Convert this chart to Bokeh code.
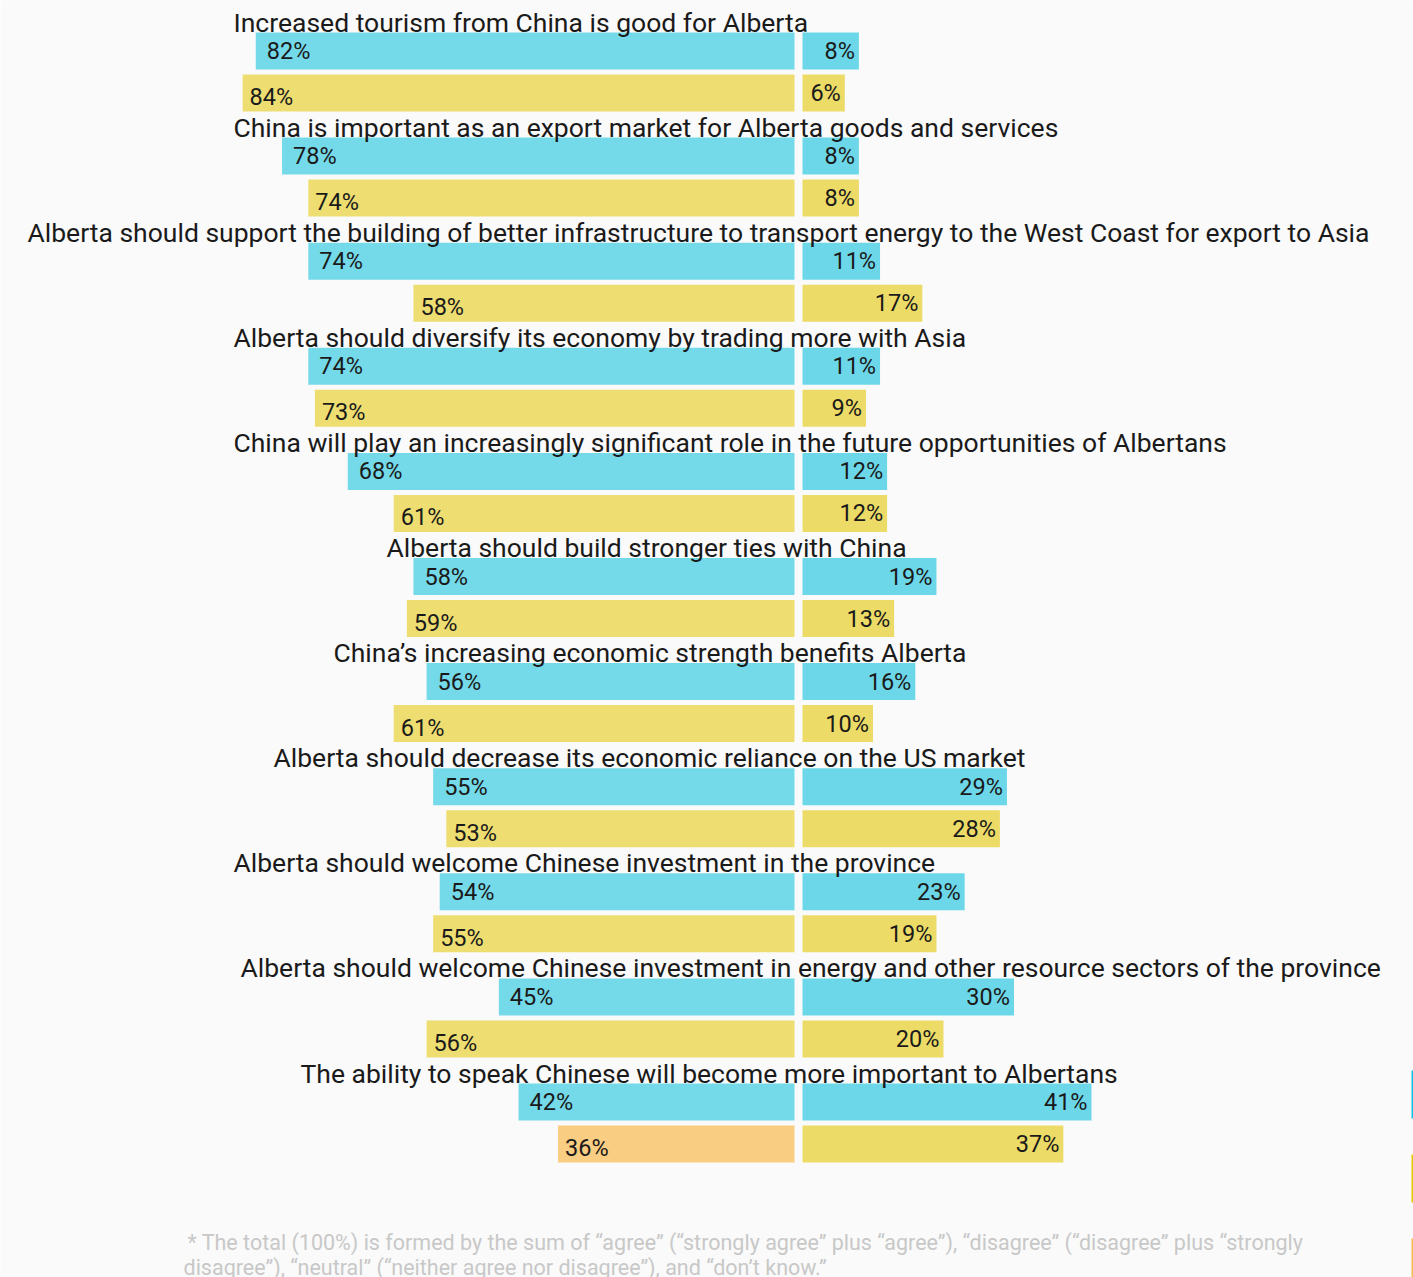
from bokeh.plotting import figure
from bokeh.models import Range1d, ColumnDataSource
from bokeh.core.properties import value
from bokeh.embed import file_html
from bokeh.resources import INLINE

# ---------------- data ----------------
statements = [
    "Increased tourism from China is good for Alberta",
    "China is important as an export market for Alberta goods and services",
    "Alberta should support the building of better infrastructure to transport energy to the West Coast for export to Asia",
    "Alberta should diversify its economy by trading more with Asia",
    "China will play an increasingly significant role in the future opportunities of Albertans",
    "Alberta should build stronger ties with China",
    "China\u2019s increasing economic strength benefits Alberta",
    "Alberta should decrease its economic reliance on the US market",
    "Alberta should welcome Chinese investment in the province",
    "Alberta should welcome Chinese investment in energy and other resource sectors of the province",
    "The ability to speak Chinese will become more important to Albertans",
]
agree_blue = [82, 78, 74, 74, 68, 58, 56, 55, 54, 45, 42]
agree_yellow = [84, 74, 58, 73, 61, 59, 61, 53, 55, 56, 36]
disagree_blue = [8, 8, 11, 11, 12, 19, 16, 29, 23, 30, 41]
disagree_yellow = [6, 8, 17, 9, 12, 13, 10, 28, 19, 20, 37]
footnote = [
    "* The total (100%) is formed by the sum of \u201cagree\u201d (\u201cstrongly agree\u201d plus \u201cagree\u201d), \u201cdisagree\u201d (\u201cdisagree\u201d plus \u201cstrongly",
    "disagree\u201d), \u201cneutral\u201d (\u201cneither agree nor disagree\u201d), and \u201cdon\u2019t know.\u201d",
]

# ---------------- layout constants ----------------
W, H = 1413, 1277
P = 105.1            # px per group
Y0 = 50.5            # px of first blue bar centre
BAR_H = 37 / P
YEL_OFF = 42 / P
TITLE_OFF = -29 / P
title_x_px = [233, 233, 27, 233, 233, 386, 333, 273, 233, 240, 300]

LZERO, LSCALE = 794, 6.57   # left bars: px of 0 and px per %
RZERO, RSCALE = 802, 7.05   # right bars

TXT = "#1a1a1a"
FONT = "Roboto"
BLUE_L, BLUE_R = "#74d9e8", "#6cd7e8"
YEL_L, YEL_R = "#eede72", "#ecdb66"
ORANGE = "#f9cd82"

n = len(statements)
idx = list(range(n))

p = figure(width=W, height=H, output_backend="svg", toolbar_location=None,
           x_range=Range1d(-RZERO / RSCALE, (W - RZERO) / RSCALE),
           y_range=Range1d((H - Y0) / P, -Y0 / P),
           min_border=0, background_fill_color="#fafafa", border_fill_color="#fafafa")
p.extra_x_ranges = {"left": Range1d(LZERO / LSCALE, (LZERO - W) / LSCALE),
                    "px": Range1d(0, W)}
p.extra_y_ranges = {"pxy": Range1d(H, 0)}
p.axis.visible = False
p.grid.visible = False
p.outline_line_color = None

left_yellow_colors = [YEL_L] * (n - 1) + [ORANGE]

src = ColumnDataSource(dict(
    y_b=idx,
    y_y=[i + YEL_OFF for i in idx],
    y_t=[i + TITLE_OFF for i in idx],
    ab=agree_blue, ay=agree_yellow, db=disagree_blue, dy=disagree_yellow,
    ab_l=[f"{v}%" for v in agree_blue], ay_l=[f"{v}%" for v in agree_yellow],
    db_l=[f"{v}%" for v in disagree_blue], dy_l=[f"{v}%" for v in disagree_yellow],
    zero=[0] * n, ycol=left_yellow_colors,
    title=statements, tx=title_x_px,
))

# bars
p.hbar(y="y_b", left="zero", right="ab", height=BAR_H, source=src,
       x_range_name="left", fill_color=BLUE_L, line_color=None)
p.hbar(y="y_y", left="zero", right="ay", height=BAR_H, source=src,
       x_range_name="left", fill_color="ycol", line_color=None)
p.hbar(y="y_b", left="zero", right="db", height=BAR_H, source=src,
       fill_color=BLUE_R, line_color=None)
p.hbar(y="y_y", left="zero", right="dy", height=BAR_H, source=src,
       fill_color=YEL_R, line_color=None)

# value labels
common = dict(source=src, text_font=value(FONT), text_font_size="23.5px",
              text_color=TXT, text_baseline="middle")
p.text(x="ab", y="y_b", text="ab_l", x_range_name="left", text_align="left",
       x_offset=11, **common)
p.text(x="ay", y="y_y", text="ay_l", x_range_name="left", text_align="left",
       x_offset=7, y_offset=4, **common)
p.text(x="db", y="y_b", text="db_l", text_align="right", x_offset=-4, **common)
p.text(x="dy", y="y_y", text="dy_l", text_align="right", x_offset=-4, **common)

# statement titles
p.text(x="tx", y="y_t", text="title", source=src, x_range_name="px",
       text_font=value(FONT), text_font_size="26.5px", text_color=TXT,
       text_baseline="middle", text_align="left")

# footnote
fsrc = ColumnDataSource(dict(x=[187, 183], y=[1242, 1267], t=footnote))
p.text(x="x", y="y", text="t", source=fsrc, x_range_name="px", y_range_name="pxy",
       text_font=value(FONT), text_font_size="21.5px", text_color="#c8c8c8",
       text_baseline="middle", text_align="left")

# legend swatches clipped at right edge
lsrc = ColumnDataSource(dict(l=[1411] * 3, r=[1414] * 3,
                             t=[1070, 1154, 1238], b=[1118, 1202, 1286],
                             c=["#12c4e6", "#e6ca00", "#f7bd4c"]))
p.quad(left="l", right="r", top="t", bottom="b", source=lsrc, fill_color="c",
       line_color=None, x_range_name="px", y_range_name="pxy")

open("out.html", "w").write(file_html(p, INLINE))
